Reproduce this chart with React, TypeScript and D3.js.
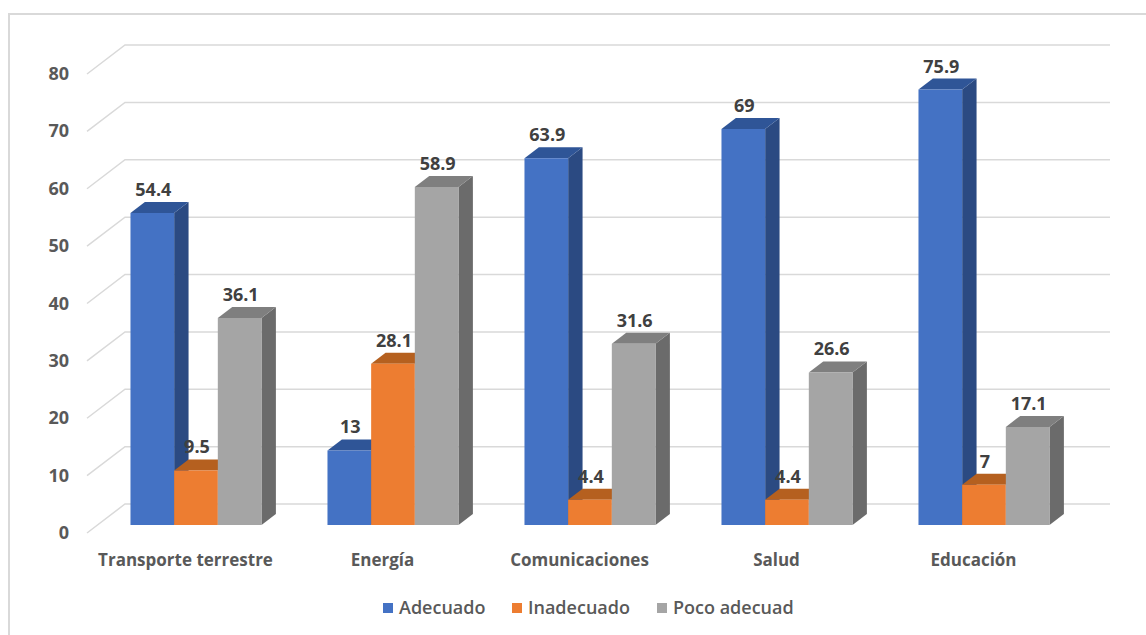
import React from "react";
import * as d3 from "d3";

const categories = ["Transporte terrestre", "Energía", "Comunicaciones", "Salud", "Educación"];
const seriesNames = ["Adecuado", "Inadecuado", "Poco adecuad"];
const adecuado = [54.4, 13, 63.9, 69, 75.9];
const inadecuado = [9.5, 28.1, 4.4, 4.4, 7];
const pocoAdecuado = [36.1, 58.9, 31.6, 26.6, 17.1];
const yTicks = [0, 10, 20, 30, 40, 50, 60, 70, 80];

const seriesValues = [adecuado, inadecuado, pocoAdecuado];
const frontColors = ["#4472C4", "#ED7D31", "#A5A5A5"];
const topColors = ["#2F5597", "#B5601F", "#7F7F7F"];
const sideColors = ["#2B4A82", "#A95520", "#6B6B6B"];

const W = 1146;
const H = 635;
const FONT = "'Open Sans', 'DejaVu Sans', sans-serif";

export default function App() {
  const frontLeft = 87;
  const frontRight = 1072;
  const depthDX = 38;
  const depthDY = -29;
  const tFront = 8 / 29;
  const tBack = 19 / 29;

  const y = d3.scaleLinear().domain([0, 80]).range([533, 74]);
  const x0 = d3.scaleBand<string>().domain(categories).range([frontLeft, frontRight]).paddingInner(0.335).paddingOuter(0.1675);
  const x1 = d3.scaleBand<string>().domain(seriesNames).range([0, x0.bandwidth()]);

  const fdx = tFront * depthDX;
  const fdy = tFront * depthDY;
  const bdx = (tBack - tFront) * depthDX;
  const bdy = (tBack - tFront) * depthDY;

  const bars: React.ReactNode[] = [];
  const labels: React.ReactNode[] = [];
  categories.forEach((c, ci) => {
    seriesNames.forEach((s, si) => {
      const v = seriesValues[si][ci];
      const xl = (x0(c) as number) + (x1(s) as number) + fdx;
      const xr = xl + x1.bandwidth();
      const yb = y(0) + fdy;
      const yt = y(v) + fdy;
      const front = `M${xl},${yb}L${xr},${yb}L${xr},${yt}L${xl},${yt}Z`;
      const top = `M${xl},${yt}L${xr},${yt}L${xr + bdx},${yt + bdy}L${xl + bdx},${yt + bdy}Z`;
      const side = `M${xr},${yb}L${xr + bdx},${yb + bdy}L${xr + bdx},${yt + bdy}L${xr},${yt}Z`;
      bars.push(
        <g key={`${ci}-${si}`}>
          <path d={side} fill={sideColors[si]} />
          <path d={top} fill={topColors[si]} />
          <path d={front} fill={frontColors[si]} />
        </g>
      );
      labels.push(
        <text
          key={`l${ci}-${si}`}
          x={(xl + xr) / 2 + 1}
          y={yt + bdy - 6}
          textAnchor="middle"
          fontFamily={FONT}
          fontWeight={700}
          fontSize={18}
          fill="#404040"
        >
          {String(v)}
        </text>
      );
    });
  });

  const legendX = [383, 512, 657];

  return (
    <svg width={W} height={H} style={{ position: "absolute", left: 0, top: 0 }}>
      <rect x={0} y={0} width={W} height={H} fill="#ffffff" />
      <rect x={9} y={14} width={1160} height={640} fill="#ffffff" stroke="#d9d9d9" strokeWidth={2} />
      {yTicks.map((t) => (
        <polyline
          key={t}
          points={`${frontLeft},${y(t)} ${frontLeft + depthDX},${y(t) + depthDY} ${frontRight + depthDX},${y(t) + depthDY}`}
          fill="none"
          stroke="#d9d9d9"
          strokeWidth={1.5}
        />
      ))}
      {yTicks.map((t) => (
        <text
          key={`t${t}`}
          x={69}
          y={y(t) + 6}
          textAnchor="end"
          fontFamily={FONT}
          fontWeight={700}
          fontSize={18}
          fill="#595959"
        >
          {t}
        </text>
      ))}
      {bars}
      {labels}
      {categories.map((c) => (
        <text
          key={c}
          x={(x0(c) as number) + x0.bandwidth() / 2}
          y={566}
          textAnchor="middle"
          fontFamily={FONT}
          fontWeight={700}
          fontSize={17}
          fill="#595959"
        >
          {c}
        </text>
      ))}
      {seriesNames.map((s, i) => (
        <g key={s}>
          <rect x={legendX[i]} y={603} width={10} height={10} fill={frontColors[i]} />
          <text x={legendX[i] + 16} y={614} fontFamily={FONT} fontWeight={600} fontSize={18} fill="#595959">
            {s}
          </text>
        </g>
      ))}
    </svg>
  );
}
